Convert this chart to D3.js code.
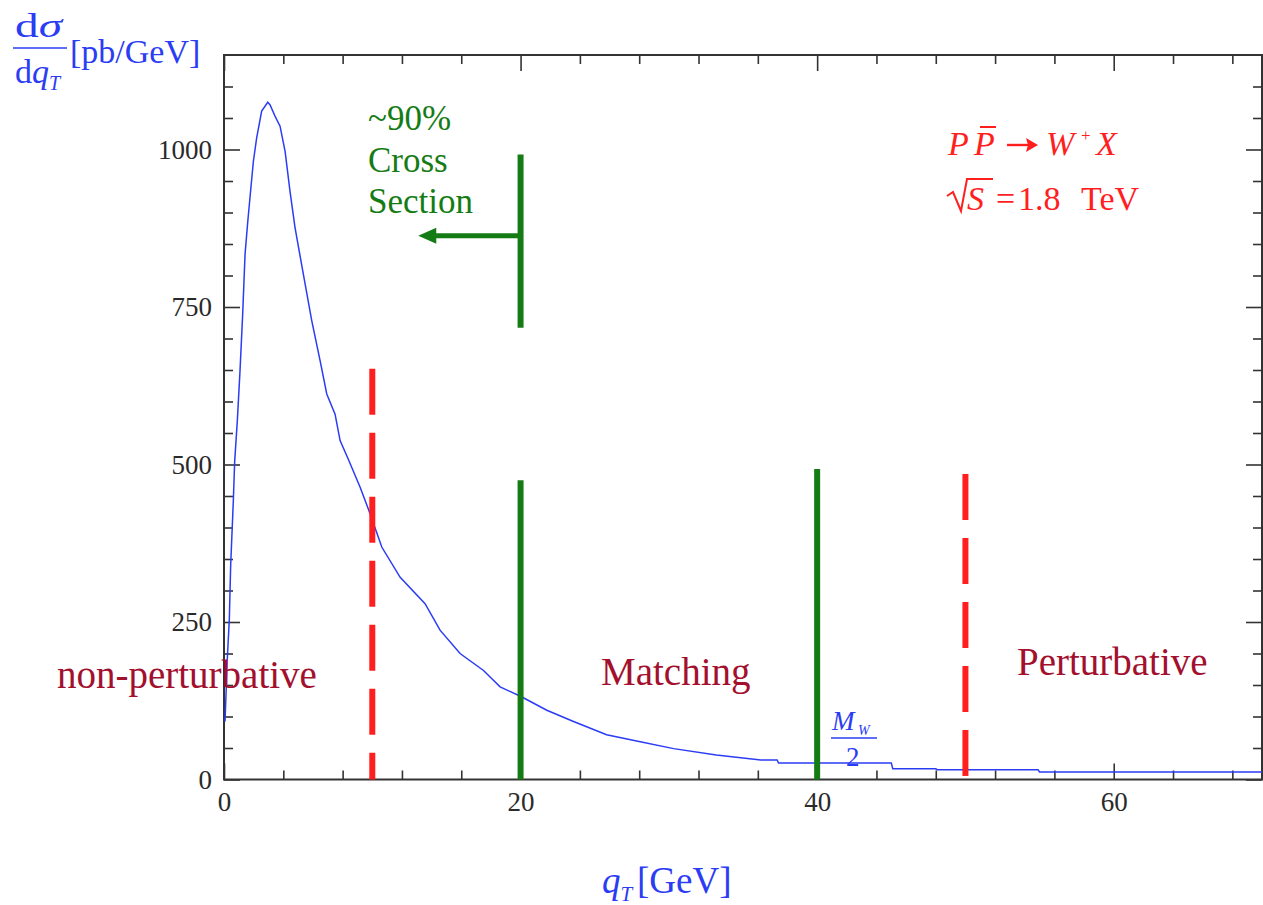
<!DOCTYPE html>
<html>
<head>
<meta charset="utf-8">
<script src="https://cdn.jsdelivr.net/npm/d3@7"></script>
<style>
  html, body { margin: 0; padding: 0; background: #fff; }
  svg text { font-family: "Liberation Serif", "Times New Roman", serif; }
</style>
</head>
<body>
<svg width="1263" height="905"></svg>
<script>
// q_T spectrum for p pbar -> W+ X
let qT = [0.07, 0.22, 0.36, 0.45, 0.63, 0.72, 0.9, 1.08, 1.26, 1.42, 1.6, 1.75, 1.98, 2.2, 2.54, 2.95, 3.1, 3.44, 3.78,
  4.12, 4.45, 4.79, 5.35, 5.92, 6.48, 6.93, 7.49, 7.83, 8.39, 9.18, 9.85, 10.64, 11.88, 13.56, 14.57, 15.92, 17.5,
  18.62, 20.09, 21.77, 23.57, 25.8, 28.07, 30.32, 33.2, 36.2, 37.3, 37.4, 45, 45.1, 48, 48.1, 54.9, 55, 70];
let dsig = [92, 190, 255, 340, 443, 505, 570, 649, 739, 834, 885, 923, 981, 1018, 1061, 1075, 1071, 1053, 1037,
  997, 934, 876, 802, 728, 665, 612, 580, 538, 508, 464, 422, 369, 321, 279, 237, 200, 173,
  147, 131, 110, 92, 71, 60, 49, 39, 31, 31, 26, 26, 17, 17, 15.5, 15.5, 12, 12];

let xMajor = [0, 20, 40, 60];
let xMinor = [4, 8, 12, 16, 24, 28, 32, 36, 44, 48, 52, 56, 64, 68];
let yMajor = [0, 250, 500, 750, 1000];
let yMinor = [50, 100, 150, 200, 300, 350, 400, 450, 550, 600, 650, 700, 800, 850, 900, 950, 1050, 1100];

// vertical markers: q_T position and value range
let greenX = [20, 20, 40];
let greenLo = [0, 717, 0];
let greenHi = [475, 992, 493];
let redX = [10, 50];
let redHi = [652, 485];

let svg = d3.select("svg");
let x = d3.scaleLinear().domain([0, 70]).range([224, 1262]);
let y = d3.scaleLinear().domain([0, 1150]).range([779.5, 55]);

let axisCol = "#333";
let green = "#157c15";
let red = "#ff1f1f";
let wine = "#a3102e";
let blue = "#2b3cf5";

function axis(gen, tr, vals, size, labels) {
  let g = svg.append("g").attr("transform", tr)
    .call(gen.tickValues(vals).tickSizeInner(-size).tickSizeOuter(0).tickPadding(12)
      .tickFormat(labels ? d3.format("d") : ""));
  g.select(".domain").remove();
  g.selectAll("line").attr("stroke", axisCol).attr("stroke-width", 1.6);
  g.selectAll("text").attr("fill", "#2a2a2a").style("font-size", "27px").style("font-family", "Liberation Serif, serif");
}
axis(d3.axisBottom(x), `translate(0,${y(0)})`, xMajor, 16, true);
axis(d3.axisBottom(x), `translate(0,${y(0)})`, xMinor, 9, false);
axis(d3.axisTop(x), `translate(0,${y(1150)})`, xMajor, 16, false);
axis(d3.axisTop(x), `translate(0,${y(1150)})`, xMinor, 9, false);
axis(d3.axisLeft(y), `translate(${x(0)},0)`, yMajor, 16, true);
axis(d3.axisLeft(y), `translate(${x(0)},0)`, yMinor, 9, false);
axis(d3.axisRight(y), `translate(${x(70)},0)`, yMajor, 16, false);
axis(d3.axisRight(y), `translate(${x(70)},0)`, yMinor, 9, false);

// frame
svg.append("rect")
  .attr("x", x(0)).attr("y", y(1150))
  .attr("width", x(70) - x(0)).attr("height", y(0) - y(1150))
  .attr("fill", "none").attr("stroke", axisCol).attr("stroke-width", 2);

// curve
let line = d3.line().x(d => x(d[0])).y(d => y(d[1]));
svg.append("path")
  .datum(d3.zip(qT, dsig))
  .attr("d", line)
  .attr("fill", "none")
  .attr("stroke", blue)
  .attr("stroke-width", 1.5);

// green markers
svg.selectAll(".gline").data(greenX).enter().append("line")
  .attr("x1", d => x(d)).attr("x2", d => x(d))
  .attr("y1", (d, i) => y(greenHi[i])).attr("y2", (d, i) => y(greenLo[i]))
  .attr("stroke", green).attr("stroke-width", 6);

// red dashed markers, dashes start at the top
svg.selectAll(".rline").data(redX).enter().append("line")
  .attr("x1", d => x(d)).attr("x2", d => x(d))
  .attr("y1", (d, i) => y(redHi[i])).attr("y2", y(0))
  .attr("stroke", red).attr("stroke-width", 6)
  .attr("stroke-dasharray", "46,18");

// arrow to the left
let arrowFrom = 20, arrowTo = 13.1, arrowAt = 863;
svg.append("line")
  .attr("x1", x(arrowFrom)).attr("x2", x(arrowTo) + 14)
  .attr("y1", y(arrowAt)).attr("y2", y(arrowAt))
  .attr("stroke", green).attr("stroke-width", 5);
svg.append("path")
  .attr("d", `M${x(arrowTo)},${y(arrowAt)} L${x(arrowTo) + 18},${y(arrowAt) - 8} L${x(arrowTo) + 18},${y(arrowAt) + 8} Z`)
  .attr("fill", green);

// text annotations
function txt(s, px, py, size, col, style) {
  return svg.append("text").attr("x", px).attr("y", py)
    .style("font-size", size + "px").style("font-style", style || "normal")
    .attr("fill", col).text(s);
}
txt("~90%", 368, 130, 35, green);
txt("Cross", 368, 172, 35, green);
txt("Section", 368, 213, 35, green);

txt("non-perturbative", 57, 688, 39, wine);
txt("Matching", 601, 685, 39, wine);
txt("Perturbative", 1017, 675, 39, wine);

// P Pbar -> W+ X
txt("P", 948, 155, 34, red, "italic");
txt("P", 974, 155, 34, red, "italic");
svg.append("line").attr("x1", 980).attr("x2", 996).attr("y1", 127).attr("y2", 127)
  .attr("stroke", red).attr("stroke-width", 2);
svg.append("line").attr("x1", 1007).attr("x2", 1030).attr("y1", 145).attr("y2", 145)
  .attr("stroke", red).attr("stroke-width", 2.4);
svg.append("path").attr("d", "M1038,145 L1026,138 L1028,145 L1026,152 Z").attr("fill", red);
txt("W", 1046, 155, 34, red, "italic");
txt("+", 1081, 141, 17, red);
txt("X", 1096, 155, 34, red, "italic");

// sqrt(S) = 1.8 TeV
svg.append("path")
  .attr("d", "M947,196 L953,192 L961,211 L967,179 L993,179")
  .attr("fill", "none").attr("stroke", red).attr("stroke-width", 2);
txt("S", 967, 210, 34, red, "italic");
txt("=", 996, 210, 34, red);
txt("1.8", 1018, 210, 34, red);
txt("TeV", 1081, 210, 34, red);

// M_W / 2
txt("M", 832, 730, 27, blue, "italic");
txt("W", 858, 735, 14, blue, "italic");
svg.append("line").attr("x1", 831).attr("x2", 877).attr("y1", 738).attr("y2", 738)
  .attr("stroke", blue).attr("stroke-width", 1.5);
txt("2", 846, 766, 27, blue);

// y label: dsigma/dq_T [pb/GeV]
let yl = svg.append("text").attr("fill", blue).style("font-size", "34px")
  .attr("x", 15).attr("y", 37).attr("textLength", 47).attr("lengthAdjust", "spacingAndGlyphs");
yl.append("tspan").text("d");
yl.append("tspan").style("font-style", "italic").text("\u03c3");
svg.append("line").attr("x1", 13).attr("x2", 67).attr("y1", 48).attr("y2", 48)
  .attr("stroke", blue).attr("stroke-width", 1.6);
let yl2 = svg.append("text").attr("fill", blue).style("font-size", "34px").attr("x", 15).attr("y", 83);
yl2.append("tspan").text("d");
yl2.append("tspan").style("font-style", "italic").text("q");
yl2.append("tspan").style("font-style", "italic").style("font-size", "20px").attr("dy", 7).text("T");
txt("[pb/GeV]", 70, 63, 34, blue);

// x label: q_T [GeV]
let xl = svg.append("text").attr("fill", blue).style("font-size", "37px").attr("x", 602).attr("y", 893);
xl.append("tspan").style("font-style", "italic").text("q");
xl.append("tspan").style("font-style", "italic").style("font-size", "21px").attr("dy", 8).text("T");
txt("[GeV]", 637, 893, 37, blue);
</script>
</body>
</html>
